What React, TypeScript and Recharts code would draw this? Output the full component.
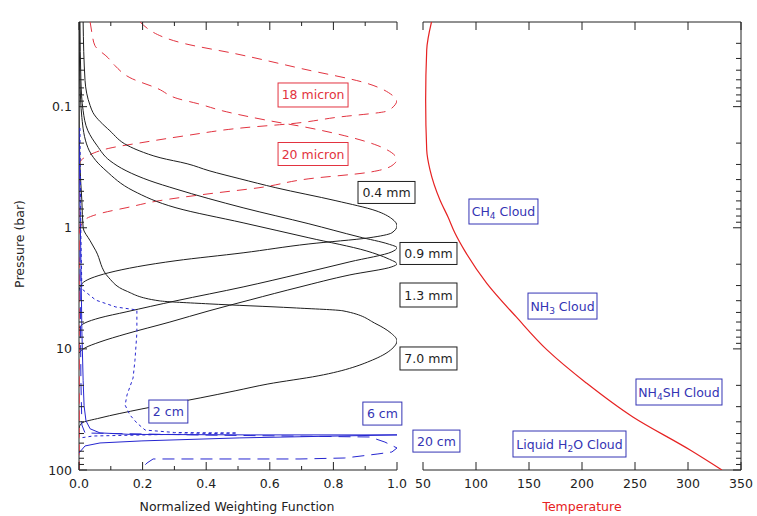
import React from "react";
import { ScatterChart, Scatter, XAxis, YAxis, ReferenceDot, ReferenceLine } from "recharts";

// weighting functions, traced top to bottom: [normalized weight, pressure (bar)]
const w04mm = [[0.013, 0.02], [0.019, 0.061], [0.035, 0.098], [0.044, 0.112], [0.097, 0.158], [0.154, 0.21], [0.189, 0.231], [0.255, 0.264], [0.34, 0.296], [0.409, 0.338], [0.506, 0.394], [0.619, 0.467], [0.808, 0.598], [0.934, 0.724], [0.984, 0.843], [1, 0.963], [0.984, 1.1], [0.912, 1.21], [0.723, 1.36], [0.516, 1.61], [0.305, 1.87], [0.094, 2.35], [0.009, 2.9], [0, 3.32]];
const w09mm = [[0.003, 0.02], [0.006, 0.061], [0.013, 0.108], [0.028, 0.158], [0.057, 0.21], [0.097, 0.279], [0.148, 0.338], [0.223, 0.409], [0.305, 0.479], [0.516, 0.684], [0.723, 0.927], [0.881, 1.19], [0.972, 1.36], [1, 1.46], [0.984, 1.58], [0.852, 1.91], [0.695, 2.4], [0.516, 3.08], [0.305, 4.01], [0.148, 4.95], [0.066, 5.54], [0.019, 6.1], [0, 6.7]];
const w13mm = [[0, 0.02], [0.003, 0.061], [0.009, 0.123], [0.028, 0.218], [0.053, 0.279], [0.085, 0.338], [0.17, 0.494], [0.305, 0.684], [0.516, 0.91], [0.723, 1.21], [0.903, 1.55], [0.972, 1.8], [1, 1.99], [0.984, 2.1], [0.852, 2.45], [0.695, 3.08], [0.538, 3.94], [0.409, 4.85], [0.286, 6.0], [0.148, 7.52], [0.066, 8.76], [0.019, 9.81], [0, 10.8]];
const w70mm = [[0, 0.02], [0, 0.089], [0.003, 0.307], [0.009, 0.598], [0.013, 1.0], [0.035, 1.28], [0.053, 1.55], [0.094, 2.59], [0.148, 3.32], [0.252, 4.01], [0.409, 4.25], [0.673, 4.58], [0.83, 4.85], [0.934, 6.21], [0.978, 7.3], [1, 8.59], [0.984, 10.0], [0.931, 12.1], [0.752, 16.7], [0.594, 19.5], [0.491, 22.2], [0.381, 25.4], [0.198, 31.3], [0.066, 37.2], [0.009, 40.9], [0, 45.0]];
const w18um = [[0.192, 0.02], [0.333, 0.0302], [0.491, 0.0365], [0.701, 0.0486], [0.909, 0.0646], [0.994, 0.0843], [1, 0.0877], [0.972, 0.108], [0.805, 0.123], [0.67, 0.138], [0.522, 0.149], [0.333, 0.174], [0.198, 0.198], [0.104, 0.218], [0.028, 0.254], [0.003, 0.29], [0, 0.5], [0, 100]];
const w20um = [[0.035, 0.02], [0.041, 0.0249], [0.05, 0.0313], [0.091, 0.0394], [0.113, 0.0458], [0.16, 0.0576], [0.248, 0.071], [0.311, 0.0859], [0.374, 0.0945], [0.45, 0.108], [0.594, 0.13], [0.72, 0.149], [0.836, 0.174], [0.94, 0.21], [0.994, 0.254], [1, 0.269], [0.984, 0.307], [0.903, 0.351], [0.723, 0.394], [0.566, 0.467], [0.409, 0.524], [0.252, 0.598], [0.148, 0.684], [0.075, 0.752], [0.022, 0.843], [0.006, 0.963], [0, 1.2], [0, 100]];
const w2cm = [[0.003, 0.15], [0.006, 1.2], [0.009, 3.2], [0.053, 3.96], [0.116, 4.51], [0.182, 4.77], [0.182, 7.39], [0.176, 12.4], [0.17, 17.4], [0.151, 24], [0.145, 29.1], [0.16, 35.1], [0.182, 40.9], [0.208, 46.8], [0.3, 49.0], [0.497, 49.5], [0.044, 52.4], [0.003, 54.4]];
const w6cm = [[0, 0.15], [0.003, 0.59], [0.006, 1.86], [0.009, 7], [0.013, 18.2], [0.016, 29.5], [0.022, 39.3], [0.035, 45.7], [0.066, 49.4], [0.16, 50.8], [0.538, 51.3], [1, 51.3], [0.506, 54.3], [0.198, 57.5], [0.066, 59.8], [0.019, 63.3], [0, 72.3]];
const w20cm = [[0.003, 1.53], [0.006, 18.3], [0.009, 42.5], [0.019, 49.5], [0.381, 51.4], [0.915, 53.4], [0.962, 58.8], [1, 65.8], [0.984, 71], [0.94, 73.7], [0.836, 79.6], [0.695, 81.1], [0.233, 81.1], [0.214, 87.5], [0.192, 100]];

// temperature profile
const temperatureK = [58, 53.5, 52.5, 53.5, 56.6, 66, 73.6, 80, 89, 110, 138, 167, 204, 248, 302, 332];
const temperatureP = [0.02, 0.034, 0.0881, 0.228, 0.333, 0.59, 0.815, 1.1, 1.53, 2.86, 5.45, 10.2, 19.1, 36.5, 68.4, 100];

// axes
const weightTicks = [0, 0.1, 0.2, 0.3, 0.4, 0.5, 0.6, 0.7, 0.8, 0.9, 1];
const weightLabels = [0, 0.2, 0.4, 0.6, 0.8, 1];
const tempTicks = [50, 100, 150, 200, 250, 300, 350];
const pressureLabels = [0.1, 1, 10, 100];
const minorSteps = [2, 3, 4, 5, 6, 7, 8, 9];
const pressureMinor = [0.01, 0.1, 1, 10]
  .flatMap((d) => minorSteps.map((s) => +(s * d).toPrecision(2)))
  .filter((v) => v > 0.02);
const pressureTicks = [...pressureMinor, ...pressureLabels].sort((a, b) => a - b);

const FONT = "'DejaVu Sans', Verdana, sans-serif";
const AXIS = "#222";
const BLACK = "#1e1e1e";
const RED = "#e23340";
const TEMP_RED = "#e62222";
const BLUE = "#2626d0";
const LABEL_BLUE = "#3434b4";
const PLOT_H = 448;

const toPoints = (pts: number[][]) => pts.map(([x, p]) => ({ x, p }));
const tempPoints = temperatureK.map((t, i) => ({ x: t, p: temperatureP[i] }));

const NoDot = () => <g />;

function BoxLabel({ cx, cy, w, h, color, children }: any) {
  return (
    <g>
      <rect x={cx - w / 2} y={cy - h / 2} width={w} height={h} fill="#fff" stroke={color} strokeWidth={1} />
      <text x={cx} y={cy} dy="0.36em" textAnchor="middle" fill={color} fontFamily={FONT} fontSize={12.5}>
        {children}
      </text>
    </g>
  );
}

const box = (w: number, h: number, color: string, content: React.ReactNode) => (p: any) => (
  <BoxLabel cx={p.cx} cy={p.cy} w={w} h={h} color={color}>
    {content}
  </BoxLabel>
);

function WeightTick({ x, y, payload }: any) {
  const v = payload.value;
  const major = weightLabels.includes(v);
  const len = major ? 8 : 4;
  return (
    <g>
      <line x1={x} x2={x} y1={y} y2={y - len} stroke={AXIS} />
      <line x1={x} x2={x} y1={y - PLOT_H} y2={y - PLOT_H + len} stroke={AXIS} />
      {major && (
        <text x={x} y={y + 13} dy="0.36em" textAnchor="middle" fill={AXIS} fontSize={12.5} fontFamily={FONT}>
          {v.toFixed(1)}
        </text>
      )}
    </g>
  );
}

function TempTick({ x, y, payload }: any) {
  return (
    <g>
      <line x1={x} x2={x} y1={y} y2={y - 8} stroke={AXIS} />
      <line x1={x} x2={x} y1={y - PLOT_H} y2={y - PLOT_H + 8} stroke={AXIS} />
      <text x={x} y={y + 13} dy="0.36em" textAnchor="middle" fill={AXIS} fontSize={12.5} fontFamily={FONT}>
        {payload.value}
      </text>
    </g>
  );
}

function LeftPressureTick({ x, y, payload }: any) {
  const v = payload.value;
  const major = pressureLabels.includes(v);
  return (
    <g>
      <line x1={x} x2={x + (major ? 8 : 5)} y1={y} y2={y} stroke={AXIS} />
      {major && (
        <text x={x - 7} y={y} dy="0.36em" textAnchor="end" fill={AXIS} fontSize={12.5} fontFamily={FONT}>
          {String(v)}
        </text>
      )}
    </g>
  );
}

function RightPressureTick({ x, y, payload }: any) {
  const major = pressureLabels.includes(payload.value);
  return <line x1={x} x2={x - (major ? 8 : 5)} y1={y} y2={y} stroke={AXIS} />;
}

const sub = (s: string) => [
  <tspan key="s" dy={3} fontSize={9}>{s}</tspan>,
];

export default function App() {
  const curve = (pts: number[][], color: string, dash?: string, joint: any = "monotoneY") => (
    <Scatter
      data={toPoints(pts)}
      fill={color}
      shape={NoDot}
      line={{ stroke: color, strokeWidth: 1, strokeDasharray: dash }}
      lineJointType={joint}
      isAnimationActive={false}
    />
  );

  return (
    <div style={{ position: "absolute", left: 0, top: 0, width: 757, height: 516, background: "#fff", fontFamily: FONT }}>
      <div style={{ position: "absolute", left: 0, top: 0 }}>
        <ScatterChart width={470} height={516} margin={{ top: 22, right: 73, bottom: 0, left: 0 }}>
          <XAxis type="number" dataKey="x" domain={[0, 1]} ticks={weightTicks} interval={0} tickSize={0} tickMargin={0}
            tick={(p: any) => <WeightTick {...p} />} height={46} stroke={AXIS} allowDataOverflow />
          <YAxis type="number" dataKey="p" scale="log" domain={[0.02, 100]} reversed ticks={pressureTicks} interval={0}
            tickSize={0} tickMargin={0} tick={(p: any) => <LeftPressureTick {...p} />} width={79} stroke={AXIS} allowDataOverflow />
          <ReferenceLine y={0.02} stroke={AXIS} />
          {curve(w18um, RED, "10 7")}
          {curve(w20um, RED, "10 7")}
          {curve(w04mm, BLACK)}
          {curve(w09mm, BLACK)}
          {curve(w13mm, BLACK)}
          {curve(w70mm, BLACK)}
          {curve(w2cm, BLUE, "3 3", "linear")}
          {curve(w6cm, BLUE, undefined, "linear")}
          {curve(w20cm, BLUE, "12 7", "linear")}
          <ReferenceDot x={0.736} y={0.0801} ifOverflow="visible" shape={box(70, 24, RED, "18 micron")} />
          <ReferenceDot x={0.736} y={0.246} ifOverflow="visible" shape={box(70, 23, RED, "20 micron")} />
          <ReferenceDot x={0.967} y={0.511} ifOverflow="visible" shape={box(57, 22, BLACK, "0.4 mm")} />
          <ReferenceDot x={1.099} y={1.63} ifOverflow="visible" shape={box(57, 22, BLACK, "0.9 mm")} />
          <ReferenceDot x={1.099} y={3.59} ifOverflow="visible" shape={box(57, 24, BLACK, "1.3 mm")} />
          <ReferenceDot x={1.099} y={12.0} ifOverflow="visible" shape={box(57, 23, BLACK, "7.0 mm")} />
          <ReferenceDot x={0.281} y={32.9} ifOverflow="visible" shape={box(39, 23, LABEL_BLUE, "2 cm")} />
          <ReferenceDot x={0.954} y={34.2} ifOverflow="visible" shape={box(39, 23, LABEL_BLUE, "6 cm")} />
          <ReferenceDot x={1.124} y={57.7} ifOverflow="visible" shape={box(47, 22, LABEL_BLUE, "20 cm")} />
        </ScatterChart>
      </div>
      <div style={{ position: "absolute", left: 400, top: 0 }}>
        <ScatterChart width={357} height={516} margin={{ top: 22, right: 15, bottom: 0, left: 23 }}>
          <XAxis type="number" dataKey="x" domain={[50, 350]} ticks={tempTicks} interval={0} tickSize={0} tickMargin={0}
            tick={(p: any) => <TempTick {...p} />} height={46} stroke={AXIS} allowDataOverflow />
          <YAxis type="number" dataKey="p" orientation="right" scale="log" domain={[0.02, 100]} reversed ticks={pressureTicks}
            interval={0} tickSize={0} tickMargin={0} tick={(p: any) => <RightPressureTick {...p} />} width={1} stroke={AXIS} allowDataOverflow />
          <ReferenceLine y={0.02} stroke={AXIS} />
          <Scatter
            data={tempPoints}
            fill={TEMP_RED}
            shape={NoDot}
            line={{ stroke: TEMP_RED, strokeWidth: 1.2 }}
            lineJointType="monotoneY"
            isAnimationActive={false}
          />
          <ReferenceDot x={125.9} y={0.734} ifOverflow="visible"
            shape={box(69, 25, LABEL_BLUE, <>CH{sub("4")}<tspan dy={-3}> Cloud</tspan></>)} />
          <ReferenceDot x={181.6} y={4.43} ifOverflow="visible"
            shape={box(69, 26, LABEL_BLUE, <>NH{sub("3")}<tspan dy={-3}> Cloud</tspan></>)} />
          <ReferenceDot x={291.5} y={22.7} ifOverflow="visible"
            shape={box(86, 26, LABEL_BLUE, <>NH{sub("4")}<tspan dy={-3}>SH Cloud</tspan></>)} />
          <ReferenceDot x={188.2} y={61.0} ifOverflow="visible"
            shape={box(113, 26, LABEL_BLUE, <>Liquid H{sub("2")}<tspan dy={-3}>O Cloud</tspan></>)} />
        </ScatterChart>
      </div>
      <svg width={757} height={516} style={{ position: "absolute", left: 0, top: 0, pointerEvents: "none" }}>
        <text x={237} y={506} dy="0.36em" textAnchor="middle" fill={AXIS} fontSize={12.5} fontFamily={FONT}>
          Normalized Weighting Function
        </text>
        <text x={582} y={506} dy="0.36em" textAnchor="middle" fill={TEMP_RED} fontSize={12.5} fontFamily={FONT}>
          Temperature
        </text>
        <text x={19} y={244} dy="0.36em" textAnchor="middle" fill={AXIS} fontSize={12.5} fontFamily={FONT}
          transform="rotate(-90 19 244)">
          Pressure (bar)
        </text>
      </svg>
    </div>
  );
}
